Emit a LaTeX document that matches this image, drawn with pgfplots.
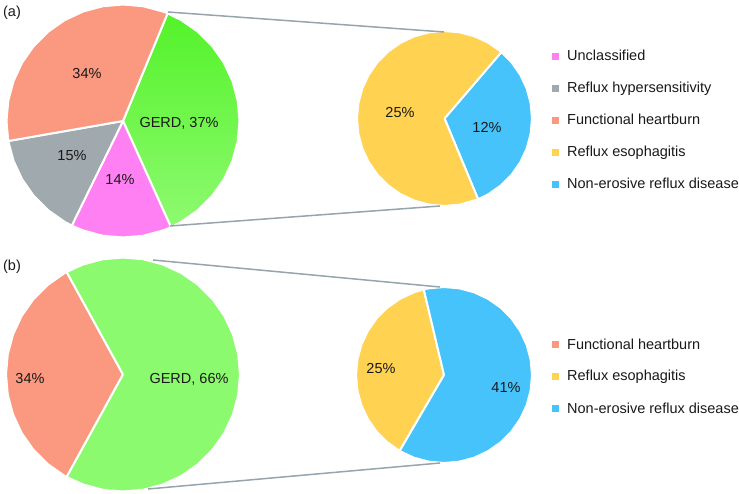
\documentclass[border=0pt]{standalone}
\usepackage{fontspec}
\setmainfont{Liberation Sans}
\usepackage{pgfplots}
\pgfplotsset{compat=1.18}
\usepgfplotslibrary{polar}
\definecolor{salmon}{RGB}{250,152,128}
\definecolor{gerdtop}{RGB}{84,242,42}
\definecolor{gerdbot}{RGB}{142,250,112}
\definecolor{gerd}{RGB}{140,250,110}
\definecolor{pinkc}{RGB}{255,128,242}
\definecolor{grayc}{RGB}{160,170,174}
\definecolor{yellowc}{RGB}{255,210,82}
\definecolor{bluec}{RGB}{70,195,250}
\definecolor{linkc}{RGB}{150,164,174}
\definecolor{txt}{RGB}{25,25,25}
\newcommand\lbl{\fontsize{14.5}{17}\selectfont}
\pgfplotsset{
  pie/.style={hide axis, scale only axis, clip=false, ymin=0, ymax=1, anchor=center},
  sec/.style={draw=white, line width=2pt, line join=round, mark=none},
  key/.style={only marks, mark=square*, mark size=3pt, color=#1, mark options={draw=#1, fill=#1}},
}
\begin{document}
\begin{tikzpicture}
% (a) main pie: GERD 37, unclassified 14, hypersensitivity 15, functional 34
\begin{polaraxis}[pie, width=233pt, height=233pt, at={(123pt,373pt)}]
\addplot[sec, top color=gerdtop, bottom color=gerdbot] coordinates {(0,0) (67.5,1) (60,1) (50,1) (40,1) (30,1) (20,1) (10,1) (0,1) (-10,1) (-20,1) (-30,1) (-40,1) (-50,1) (-60,1) (-65.7,1) (0,0)};
\addplot[sec, fill=pinkc] coordinates {(0,0) (-65.7,1) (-70,1) (-80,1) (-90,1) (-100,1) (-110,1) (-116.1,1) (0,0)};
\addplot[sec, fill=grayc] coordinates {(0,0) (-116.1,1) (-120,1) (-130,1) (-140,1) (-150,1) (-160,1) (-170.1,1) (0,0)};
\addplot[sec, fill=salmon] coordinates {(0,0) (189.9,1) (180,1) (170,1) (160,1) (150,1) (140,1) (130,1) (120,1) (110,1) (100,1) (90,1) (80,1) (70,1) (67.5,1) (0,0)};
\end{polaraxis}
% (a) GERD split: erosive 25, non-erosive 12
\begin{polaraxis}[pie, width=175pt, height=175pt, at={(444.5pt,375.5pt)}]
\addplot[sec, fill=bluec] coordinates {(0,0) (49.4,1) (40,1) (30,1) (20,1) (10,1) (0,1) (-10,1) (-20,1) (-30,1) (-40,1) (-50,1) (-60,1) (-67.4,1) (0,0)};
\addplot[sec, fill=yellowc] coordinates {(0,0) (292.6,1) (280,1) (270,1) (260,1) (250,1) (240,1) (230,1) (220,1) (210,1) (200,1) (190,1) (180,1) (170,1) (160,1) (150,1) (140,1) (130,1) (120,1) (110,1) (100,1) (90,1) (80,1) (70,1) (60,1) (50,1) (49.4,1) (0,0)};
\end{polaraxis}
% (b) main pie: functional 34, GERD 66
\begin{polaraxis}[pie, width=234pt, height=234pt, at={(123pt,119.5pt)}]
\addplot[sec, fill=salmon] coordinates {(0,0) (118.8,1) (120,1) (130,1) (140,1) (150,1) (160,1) (170,1) (180,1) (190,1) (200,1) (210,1) (220,1) (230,1) (240,1) (241.2,1) (0,0)};
\addplot[sec, fill=gerd] coordinates {(0,0) (-118.8,1) (-110,1) (-100,1) (-90,1) (-80,1) (-70,1) (-60,1) (-50,1) (-40,1) (-30,1) (-20,1) (-10,1) (0,1) (10,1) (20,1) (30,1) (40,1) (50,1) (60,1) (70,1) (80,1) (90,1) (100,1) (110,1) (118.8,1) (0,0)};
\end{polaraxis}
% (b) GERD split: erosive 25, non-erosive 41
\begin{polaraxis}[pie, width=176pt, height=176pt, at={(444pt,119pt)}]
\addplot[sec, fill=yellowc] coordinates {(0,0) (103.3,1) (110,1) (120,1) (130,1) (140,1) (150,1) (160,1) (170,1) (180,1) (190,1) (200,1) (210,1) (220,1) (230,1) (239.7,1) (0,0)};
\addplot[sec, fill=bluec] coordinates {(0,0) (-120.3,1) (-110,1) (-100,1) (-90,1) (-80,1) (-70,1) (-60,1) (-50,1) (-40,1) (-30,1) (-20,1) (-10,1) (0,1) (10,1) (20,1) (30,1) (40,1) (50,1) (60,1) (70,1) (80,1) (90,1) (100,1) (103.3,1) (0,0)};
\end{polaraxis}
% overlay in pixel units: links, labels, legends
\begin{axis}[at={(0,0)}, anchor=south west, scale only axis, width=739pt, height=494pt,
  xmin=0, xmax=739, ymin=0, ymax=494, y dir=reverse, hide axis, clip=false]
\addplot[linkc, line width=1.5pt, mark=none] coordinates {(168,12) (444,32)};
\addplot[linkc, line width=1.5pt, mark=none] coordinates {(170,226) (440,206)};
\addplot[linkc, line width=1.5pt, mark=none] coordinates {(153,260) (440,287)};
\addplot[linkc, line width=1.5pt, mark=none] coordinates {(148,489) (440,463)};
\addplot[key=pinkc] coordinates {(555,56)};
\addplot[key=grayc] coordinates {(555,88)};
\addplot[key=salmon] coordinates {(555,120) (555,344)};
\addplot[key=yellowc] coordinates {(555,152) (555,376)};
\addplot[key=bluec] coordinates {(555,184) (555,408)};
\begin{scope}[every node/.style={font=\lbl, text=txt, inner sep=0pt}]
\node[anchor=base west] at (axis cs:567,61) {Unclassified};
\node[anchor=base west] at (axis cs:567,93) {Reflux hypersensitivity};
\node[anchor=base west] at (axis cs:567,125) {Functional heartburn};
\node[anchor=base west] at (axis cs:567,157) {Reflux esophagitis};
\node[anchor=base west] at (axis cs:567,189) {Non-erosive reflux disease};
\node[anchor=base west] at (axis cs:567,349) {Functional heartburn};
\node[anchor=base west] at (axis cs:567,381) {Reflux esophagitis};
\node[anchor=base west] at (axis cs:567,413) {Non-erosive reflux disease};
\node at (axis cs:12,13) {(a)};
\node at (axis cs:12,267) {(b)};
\node[anchor=base] at (axis cs:87,79) {34\%};
\node[anchor=base] at (axis cs:179,128) {GERD, 37\%};
\node[anchor=base] at (axis cs:72,161) {15\%};
\node[anchor=base] at (axis cs:120,185) {14\%};
\node[anchor=base] at (axis cs:400,118) {25\%};
\node[anchor=base] at (axis cs:487,133) {12\%};
\node[anchor=base] at (axis cs:30,383) {34\%};
\node[anchor=base] at (axis cs:189,383) {GERD, 66\%};
\node[anchor=base] at (axis cs:381,373) {25\%};
\node[anchor=base] at (axis cs:506,392) {41\%};
\end{scope}
\end{axis}
\path (0,0) rectangle (739pt,494pt);
\end{tikzpicture}
\end{document}
